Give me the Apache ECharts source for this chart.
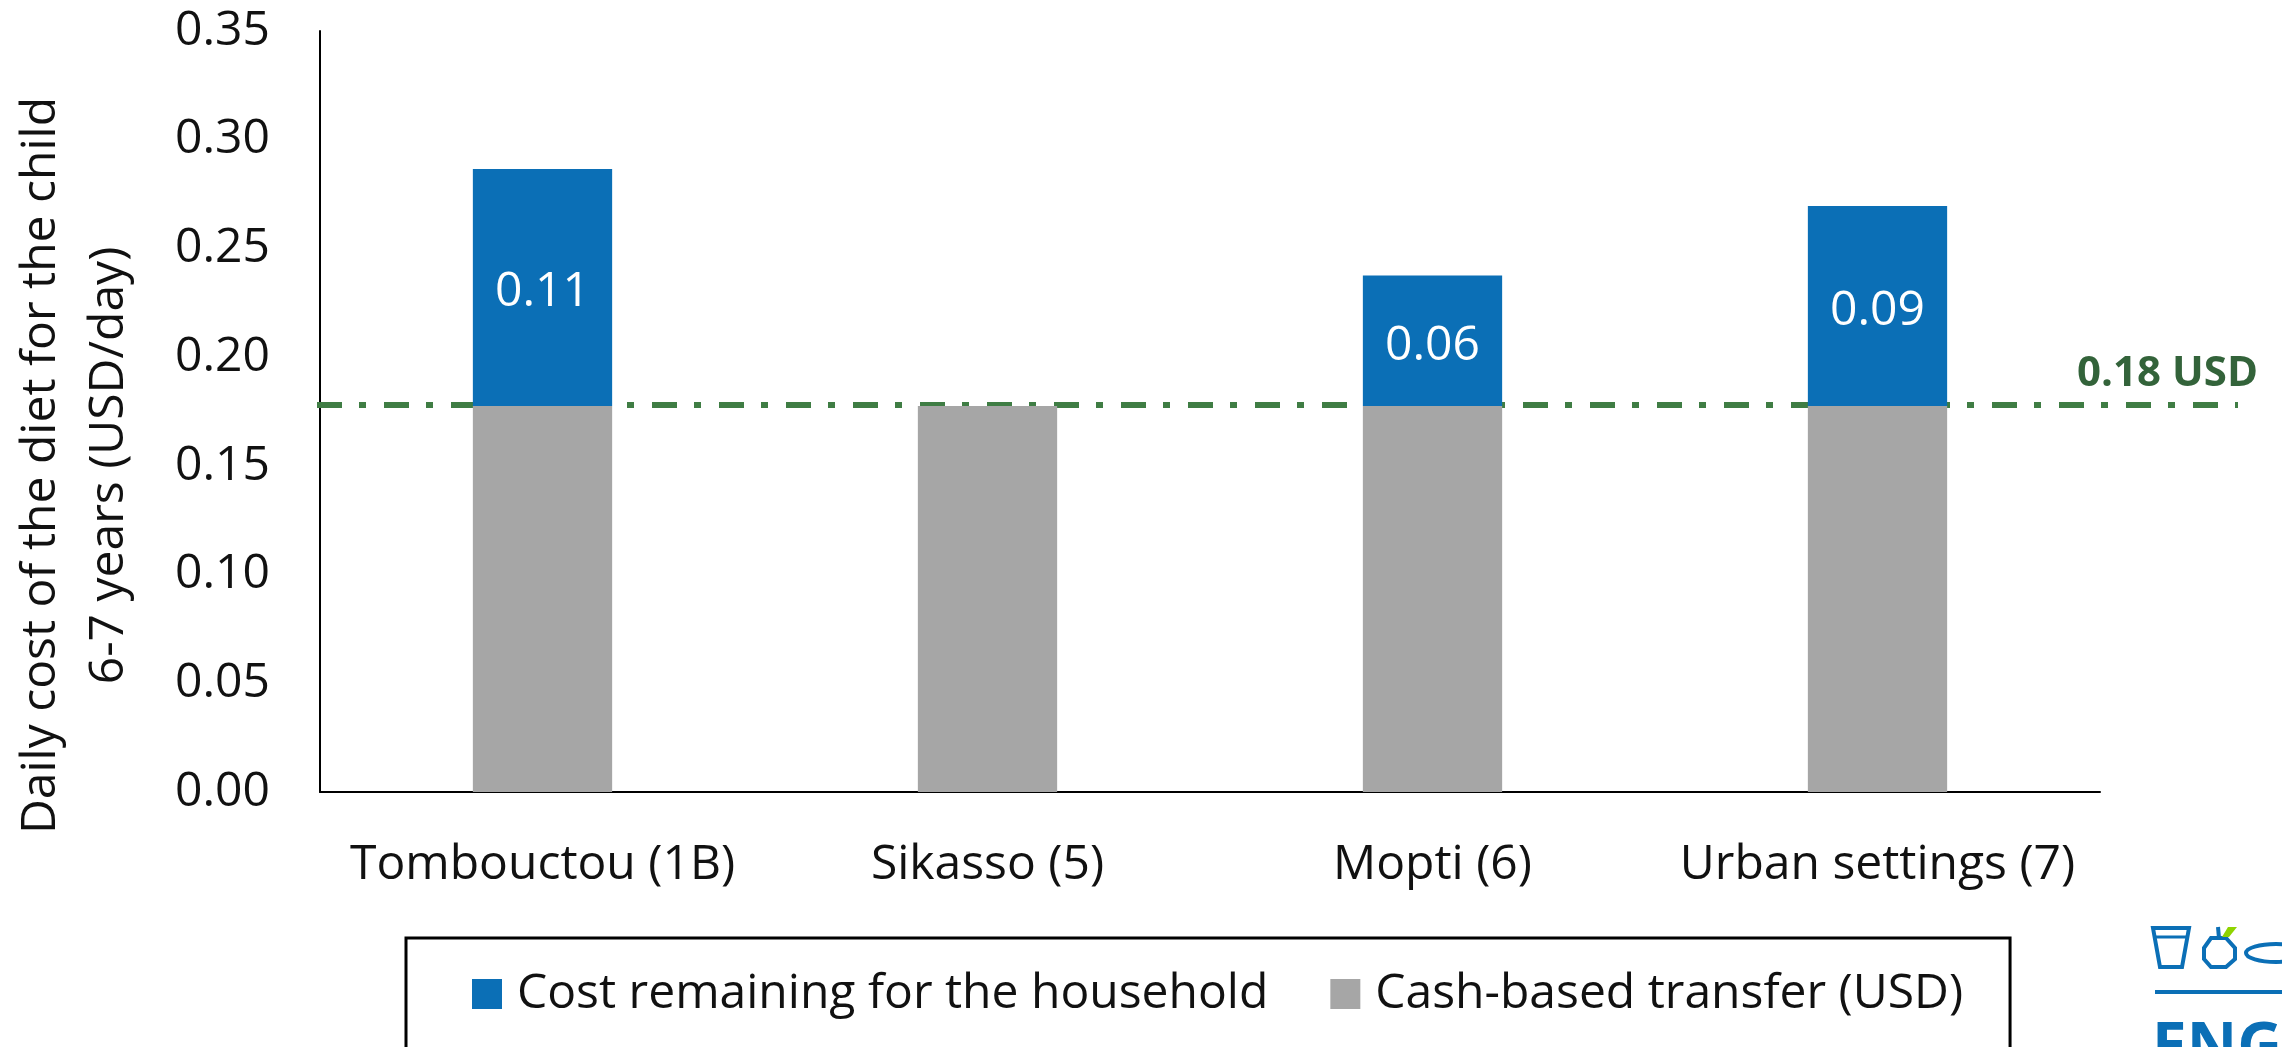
<!DOCTYPE html>
<html>
<head>
<meta charset="utf-8">
<title>Daily cost of the diet</title>
<script src="https://cdn.jsdelivr.net/npm/echarts@6/dist/echarts.min.js"></script>
<style>
    html, body { margin: 0; padding: 0; background: #fff; overflow: hidden; }
    #chart { width: 2282px; height: 1047px; }
</style>
</head>
<body>
<div id="chart"></div>
<script>
const categories = ['Tombouctou (1B)', 'Sikasso (5)', 'Mopti (6)', 'Urban settings (7)'];
const cashTransfer = [0.1775, 0.1775, 0.1775, 0.1775];
const costRemaining = [0.109, null, 0.06, 0.092];
const refLineX = [0, 1];
const refLineY = [0.178, 0.178];
const refLineLabel = '0.18 USD';
const yTicks = { min: 0, max: 0.35, interval: 0.05 };

const FONT = '"Open Sans"';
const BLUE = '#0b6fb6';
const GREY = '#a6a6a6';

const chart = echarts.init(document.getElementById('chart'));
chart.setOption({
    animation: false,
    textStyle: { fontFamily: FONT },
    grid: [
        { left: 320, right: 182, top: 31, height: 761, outerBoundsMode: 'none' },
        // second grid only so the reference line can run past the plot area
        { left: 317, right: 44, top: 31, height: 761, outerBoundsMode: 'none' }
    ],
    legend: {
        data: ['Cost remaining for the household', 'Cash-based transfer (USD)'],
        left: 406,
        top: 938,
        padding: [32, 47, 48, 66],
        borderColor: '#000',
        borderWidth: 3,
        itemWidth: 30,
        itemHeight: 30,
        itemGap: 62,
        icon: 'rect',
        textStyle: { fontFamily: FONT, fontSize: 48, color: '#111', padding: [0, 0, 0, 10] }
    },
    xAxis: [
        {
            type: 'category',
            gridIndex: 0,
            data: categories,
            axisTick: { show: false },
            axisLine: { lineStyle: { color: '#000', width: 2 } },
            axisLabel: { fontFamily: FONT, fontSize: 48, color: '#111', margin: 49, interval: 0 }
        },
        { type: 'value', gridIndex: 1, min: 0, max: 1, show: false }
    ],
    yAxis: [
        {
            type: 'value',
            gridIndex: 0,
            min: yTicks.min,
            max: yTicks.max,
            interval: yTicks.interval,
            name: 'Daily cost of the diet for the child\n6-7 years (USD/day)',
            nameLocation: 'middle',
            nameGap: 177,
            nameTextStyle: { fontFamily: FONT, fontSize: 48, color: '#111', lineHeight: 68, padding: [0, 108, 0, 0] },
            splitLine: { show: false },
            axisTick: { show: false },
            axisLine: { show: true, lineStyle: { color: '#000', width: 2 } },
            axisLabel: { fontFamily: FONT, fontSize: 48, color: '#111', margin: 50, padding: [6, 0, 0, 0], formatter: v => v.toFixed(2) }
        },
        { type: 'value', gridIndex: 1, min: yTicks.min, max: yTicks.max, show: false }
    ],
    series: [
        {
            name: 'Reference',
            type: 'line',
            xAxisIndex: 1,
            yAxisIndex: 1,
            z: 1,
            symbol: 'none',
            silent: true,
            data: refLineX.map((x, i) => [x, refLineY[i]]),
            lineStyle: { color: '#3f7d44', width: 6, type: [25, 17, 7, 18], cap: 'butt' },
            endLabel: {
                show: true,
                formatter: refLineLabel,
                fontFamily: FONT,
                fontSize: 42,
                fontWeight: 'bold',
                color: '#33633a',
                align: 'right',
                offset: [12, -31]
            }
        },
        {
            name: 'Cash-based transfer (USD)',
            type: 'bar',
            stack: 'cost',
            z: 3,
            barWidth: '31.3%',
            data: cashTransfer,
            itemStyle: { color: GREY }
        },
        {
            name: 'Cost remaining for the household',
            type: 'bar',
            stack: 'cost',
            z: 3,
            data: costRemaining,
            itemStyle: { color: BLUE },
            label: {
                show: true,
                position: 'inside',
                offset: [0, 5],
                fontFamily: FONT,
                fontSize: 48,
                color: '#fff',
                formatter: p => p.value == null ? '' : p.value.toFixed(2)
            }
        }
    ],
    graphic: [
        // logo in the corner, cut by the page edge like the original
        { type: 'polygon', shape: { points: [[2153, 928], [2189, 928], [2182, 967], [2160, 967]] }, style: { fill: 'none', stroke: BLUE, lineWidth: 4 } },
        { type: 'line', shape: { x1: 2155, y1: 937, x2: 2187, y2: 937 }, style: { stroke: BLUE, lineWidth: 3 } },
        { type: 'polygon', shape: { points: [[2211, 938], [2226, 938], [2235, 948], [2235, 959], [2226, 967], [2211, 967], [2204, 959], [2204, 948]] }, style: { fill: 'none', stroke: BLUE, lineWidth: 4 } },
        { type: 'line', shape: { x1: 2218, y1: 927, x2: 2219, y2: 938 }, style: { stroke: BLUE, lineWidth: 4 } },
        { type: 'polygon', shape: { points: [[2228, 927], [2237, 927], [2229, 937], [2222, 937]] }, style: { fill: '#8fd400' } },
        { type: 'ellipse', shape: { cx: 2276, cy: 953, rx: 30, ry: 9 }, style: { fill: 'none', stroke: BLUE, lineWidth: 4 } },
        { type: 'line', shape: { x1: 2155, y1: 992, x2: 2282, y2: 992 }, style: { stroke: BLUE, lineWidth: 4 } },
        { type: 'text', left: 2152, top: 1018, style: { text: 'ENG', fontFamily: FONT, fontSize: 62, fontWeight: 'bold', fill: BLUE } }
    ]
});
</script>
</body>
</html>
